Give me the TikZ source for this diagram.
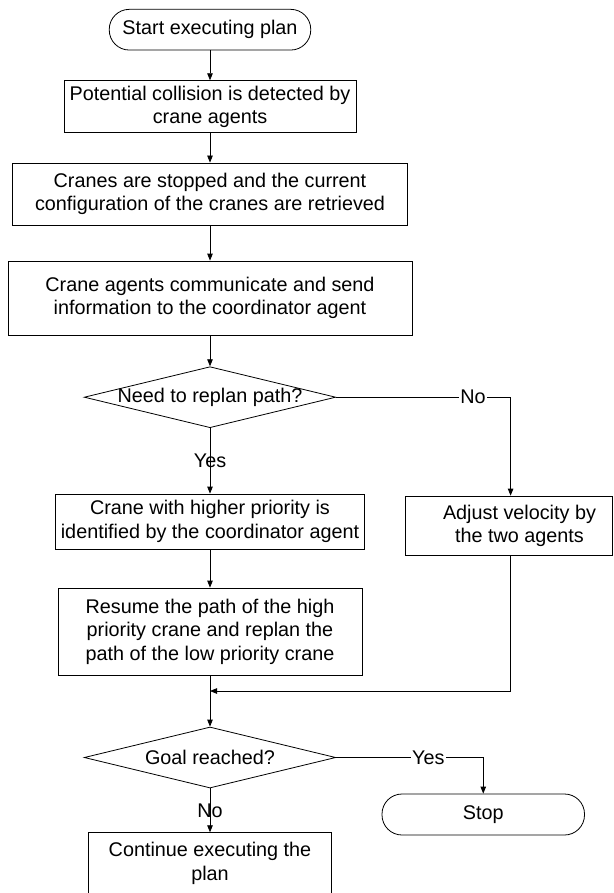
\documentclass[tikz,border=0pt]{standalone}
\usepackage{fontspec}
\setmainfont{Liberation Sans}
\usetikzlibrary{arrows.meta,shapes.geometric}
\begin{document}
\begin{tikzpicture}[x=1pt,y=-1pt,
  font=\fontsize{19.8pt}{23.5pt}\selectfont,
  line width=0.8pt,
  box/.style={draw, rectangle, align=center, inner sep=2pt},
  term/.style={draw, rectangle, rounded corners=20pt, align=center, inner sep=2pt},
  decision/.style={draw, diamond, inner sep=0pt},
  arr/.style={-{Triangle[length=7pt,width=5.5pt]}},
  hlabel/.style={fill=white, inner sep=1pt},
  vlabel/.style={inner sep=1pt}]
\useasboundingbox (0,0) rectangle (613,893);
\node[term, minimum width=201.5pt, minimum height=40.7pt] (start) at (210,29.7) {Start executing plan};
\node[box, minimum width=292pt, minimum height=52pt] (b1) at (210,106.7) {Potential collision is detected by\\crane agents};
\node[box, minimum width=395pt, minimum height=62pt] (b2) at (210,194) {Cranes are stopped and the current\\configuration of the cranes are retrieved};
\node[box, minimum width=404pt, minimum height=74pt] (b3) at (210,298) {Crane agents communicate and send\\information to the coordinator agent};
\node[decision, minimum width=251.5pt, minimum height=61pt] (d1) at (210,397.2) {};
\node (d1t) at (d1.center) {Need to replan path?};
\node[box, minimum width=309.5pt, minimum height=55pt] (b4) at (210,521.5) {Crane with higher priority is\\identified by the coordinator agent};
\node[box, minimum width=207pt, minimum height=59.7pt] (b5) at (508.5,525.9) {\hspace*{22pt}Adjust velocity by\\\hspace*{22pt}the two agents};
\node[box, minimum width=304pt, minimum height=87pt] (b6) at (210,631.5) {Resume the path of the high\\priority crane and replan the\\path of the low priority crane};
\node[decision, minimum width=251.5pt, minimum height=61pt] (d2) at (210,757.5) {};
\node (d2t) at (d2.center) {Goal reached?};
\node[term, minimum width=202.5pt, minimum height=41pt] (stop) at (483.25,814.5) {Stop};
\node[box, minimum width=242.5pt, minimum height=61.4pt] (b7) at (210,863.4) {Continue executing the\\plan};
\coordinate (c1) at (510.6,397.2);
\coordinate (m) at (210,691);
\coordinate (c2) at (483.25,757.5);
\draw[arr] (start) -- (b1);
\draw[arr] (b1) -- (b2);
\draw[arr] (b2) -- (b3);
\draw[arr] (b3) -- (d1);
\draw[arr] (d1.south) -- node[vlabel, pos=0.5] {Yes} (b4.north);
\draw[arr] (d1.east) -- node[hlabel, pos=0.785] {No} (c1) -- (c1 |- b5.north);
\draw[arr] (b4) -- (b6);
\draw[arr] (b6.south) -- (d2.north);
\draw[arr] (c1 |- b5.south) -- (c1 |- m) -- (m);
\draw[arr] (d2.east) -- node[hlabel, pos=0.627] {Yes} (c2) -- (stop.north);
\draw[arr] (d2.south) -- node[vlabel, pos=0.5] {No} (b7.north);
\end{tikzpicture}
\end{document}
